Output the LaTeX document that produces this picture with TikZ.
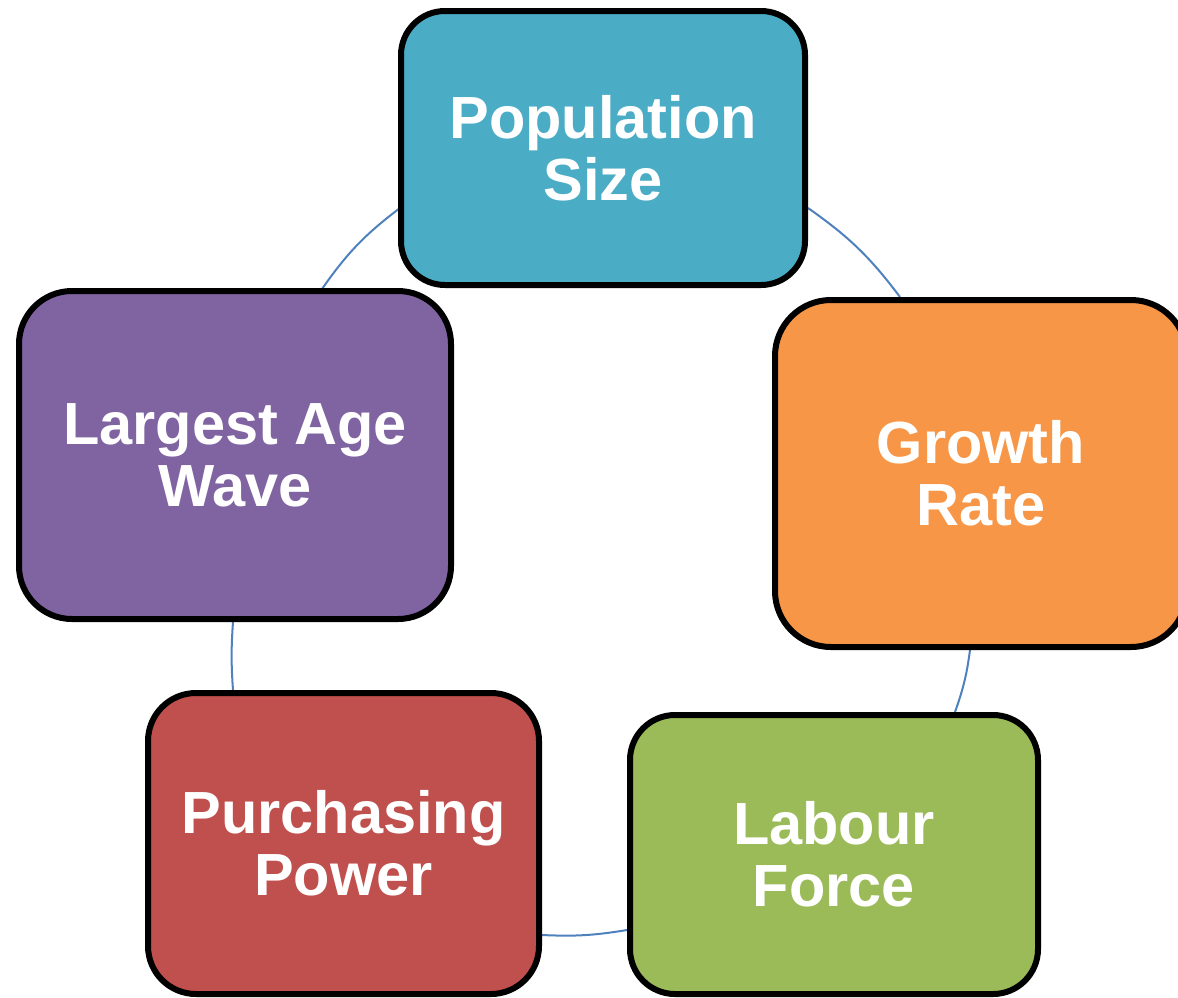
\documentclass[tikz,border=0pt]{standalone}
\usepackage{fontspec}
\setmainfont{Liberation Sans}
\definecolor{popteal}{HTML}{4BACC6}
\definecolor{growthorange}{HTML}{F79646}
\definecolor{labourgreen}{HTML}{9BBB59}
\definecolor{purchred}{HTML}{C0504D}
\definecolor{agepurple}{HTML}{8064A2}
\definecolor{linkblue}{HTML}{4F81BD}
\begin{document}
\begin{tikzpicture}[x=1pt,y=1pt,
  box/.style={draw=black, line width=6pt, text=white, align=center, inner sep=0pt,
    font=\fontsize{59.5}{62}\selectfont\bfseries},
  link/.style={draw=linkblue, line width=2pt}]
\useasboundingbox (0,0) rectangle (1178,-997);

% connector end points on the box borders
\coordinate (l1a) at (400,-208);
\coordinate (l1b) at (322,-289);
\coordinate (l2a) at (808,-208);
\coordinate (l2b) at (900,-297);
\coordinate (l3a) at (970,-650);
\coordinate (l3b) at (955,-712);
\coordinate (l4a) at (627,-930);
\coordinate (l4b) at (542,-935);
\coordinate (l5a) at (233,-690);
\coordinate (l5b) at (233,-622);

% arcs of the cycle
\draw[link] (l1a) to[bend right=9] (l1b);
\draw[link] (l2a) to[bend left=9] (l2b);
\draw[link] (l3a) to[bend left=6] (l3b);
\draw[link] (l4a) to[bend left=6] (l4b);
\draw[link] (l5a) to[bend left=4] (l5b);

% the five factors
\node[box, fill=popteal, rounded corners=44pt, minimum width=404pt, minimum height=274pt]
  (pop) at (603,-148) {Population\\Size};
\node[box, fill=growthorange, rounded corners=56pt, minimum width=412pt, minimum height=347pt]
  (growth) at (981,-473.5) {Growth\\Rate};
\node[box, fill=labourgreen, rounded corners=45pt, minimum width=408pt, minimum height=279pt]
  (labour) at (834,-854.5) {Labour\\Force};
\node[box, fill=purchred, rounded corners=48pt, minimum width=391pt, minimum height=301pt]
  (purch) at (343.5,-843.5) {Purchasing\\Power};
\node[box, fill=agepurple, rounded corners=53pt, minimum width=432pt, minimum height=328pt]
  (age) at (235,-455) {Largest Age\\Wave};
\end{tikzpicture}
\end{document}
